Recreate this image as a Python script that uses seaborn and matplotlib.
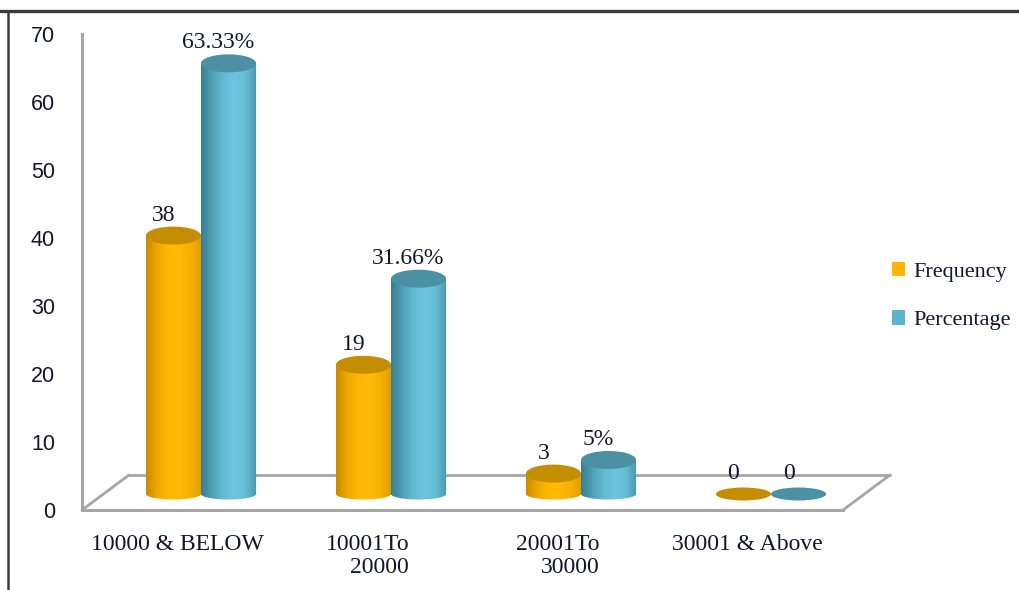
import numpy as np
import pandas as pd
import matplotlib
matplotlib.use("Agg")
import matplotlib.pyplot as plt
import seaborn as sns
from matplotlib.colors import LinearSegmentedColormap
from matplotlib.patches import Ellipse, PathPatch, Patch
from matplotlib.path import Path
from matplotlib.lines import Line2D

# ---- data -------------------------------------------------------------
income_bands = ["10000 & BELOW", "10001To\n20000", "20001To\n30000", "30001 & Above"]
series_names = ["Frequency", "Percentage"]
frequency = [38, 19, 3, 0]
percentage = [63.33, 31.66, 5, 0]
y_ticks = [0, 10, 20, 30, 40, 50, 60, 70]

freq_labels = [f"{v:g}" for v in frequency]
pct_labels = [f"{v:g}%" if v else "0" for v in percentage]

df = pd.DataFrame({
    "band": income_bands * 2,
    "series": [series_names[0]] * 4 + [series_names[1]] * 4,
    "value": frequency + percentage,
})

# ---- styling ----------------------------------------------------------
sns.set_style("white")
plt.rcParams["font.family"] = ["Liberation Serif", "DejaVu Serif"]

ORANGE = "#FFB400"
TEAL = "#5BB7D0"
TEXT = "#14152a"
AXIS_GREY = "#A6A6A6"

body_cmaps = {
    "Frequency": LinearSegmentedColormap.from_list(
        "freq", ["#CB8A00", "#EEA800", "#FFB800", "#FFBA0A", "#F8B000", "#DE9C00"]),
    "Percentage": LinearSegmentedColormap.from_list(
        "pct", ["#3A7E90", "#4F9FB5", "#62BBD2", "#6CC5DE", "#64BDD5", "#4A95AA"]),
}
cap_colors = {"Frequency": "#C48E00", "Percentage": "#4C90A3"}

W, H = 1020, 590
fig = plt.figure(figsize=(W / 100, H / 100), dpi=100)

# pixel geometry of the two stacked axes
px_per_unit = 6.8
front_left, front_right = 82, 843
front_zero, front_top = 510, 34
bar_left, bar_right = 106, 866
bar_zero = 494
y_lo = -1.6  # room for the rounded bar bottoms


def fig_rect(left, right, top_px, bottom_px):
    return [left / W, 1 - bottom_px / H, (right - left) / W, (bottom_px - top_px) / H]


# ---- front axis: value scale, floor and category labels ----------------
axf = fig.add_axes(fig_rect(front_left, front_right, front_top, front_zero))
axf.set_xlim(0, 4)
axf.set_ylim(0, 70)
axf.set_facecolor("none")
for side in ("top", "right"):
    axf.spines[side].set_visible(False)
for side in ("left", "bottom"):
    axf.spines[side].set_color(AXIS_GREY)
    axf.spines[side].set_linewidth(2.2)

axf.set_yticks(y_ticks)
axf.set_yticklabels([str(t) for t in y_ticks], family=["Liberation Sans", "DejaVu Sans"],
                    fontsize=15.5, color=TEXT)
axf.tick_params(axis="y", length=7.5, width=1.6, color=AXIS_GREY, pad=12, direction="out")

axf.set_xticks(range(5))
axf.set_xticklabels([])
axf.set_xticks(np.arange(4) + 0.5, minor=True)
axf.set_xticklabels(income_bands, minor=True, fontsize=17, color=TEXT)
axf.tick_params(axis="x", which="major", length=7.5, width=1.6, color=AXIS_GREY, direction="out")
axf.tick_params(axis="x", which="minor", length=0, pad=17)
for lab in axf.get_xticklabels(minor=True):
    lab.set_multialignment("right")
    lab.set_linespacing(1.15)

# floor depth drawn in axes fraction coordinates
dx = 47 / (front_right - front_left)
dy = 35 / (front_zero - front_top)
floor_kw = dict(transform=axf.transAxes, color=AXIS_GREY, lw=2.0, clip_on=False,
                solid_capstyle="round")
axf.plot([dx, 1 + dx], [dy, dy], **floor_kw)
axf.plot([0, dx], [0, dy], **floor_kw)
axf.plot([1, 1 + dx], [0, dy], **floor_kw)

# ---- bar axis: cylinders ------------------------------------------------
axb = fig.add_axes(fig_rect(bar_left, bar_right, bar_zero - 70 * px_per_unit,
                            bar_zero - y_lo * px_per_unit))
sns.barplot(data=df, x="band", y="value", hue="series", hue_order=series_names,
            palette=[ORANGE, TEAL], width=0.58, saturation=1, errorbar=None,
            legend=False, ax=axb)
axb.set_xlim(-0.5, 3.5)
axb.set_ylim(y_lo, 70)
axb.set_facecolor("none")
axb.set_axis_off()

cap_h = 18 / px_per_unit      # height of the top ellipse in data units
base_h = 5.5 / px_per_unit    # depth of the rounded bottom edge
grad = np.linspace(0, 1, 256).reshape(1, -1)

label_sets = {"Frequency": freq_labels, "Percentage": pct_labels}
for container, name in zip(axb.containers, series_names):
    for rect, text in zip(container.patches, label_sets[name]):
        x0, w, h = rect.get_x(), rect.get_width(), rect.get_height()
        rect.set_visible(False)
        xc = x0 + w / 2

        t = np.linspace(np.pi, 2 * np.pi, 80)
        arc = list(zip(xc + (w / 2) * np.cos(t), base_h * np.sin(t)))
        verts = [(x0, h)] + arc + [(x0 + w, h), (x0, h)]
        codes = [Path.MOVETO] + [Path.LINETO] * (len(verts) - 2) + [Path.CLOSEPOLY]
        outline = PathPatch(Path(verts, codes), facecolor="none", edgecolor="none",
                            transform=axb.transData)
        axb.add_patch(outline)
        im = axb.imshow(grad, extent=(x0, x0 + w, -base_h, max(h, 0.01)), aspect="auto",
                        cmap=body_cmaps[name], interpolation="bilinear", zorder=2)
        im.set_clip_path(outline)

        cap = Ellipse((xc, h), w, cap_h if h > 0 else cap_h * 0.72,
                      facecolor=cap_colors[name], edgecolor="none", zorder=3)
        axb.add_patch(cap)

        axb.annotate(text, (xc, h), xytext=(-10, cap_h * px_per_unit / 2 + 1),
                     textcoords="offset pixels", ha="center", va="bottom",
                     fontsize=17, color=TEXT, zorder=4)

axb.set_xlim(-0.5, 3.5)
axb.set_ylim(y_lo, 70)

# ---- legend -------------------------------------------------------------
handles = [Patch(facecolor=ORANGE, edgecolor="none"), Patch(facecolor=TEAL, edgecolor="none")]
fig.legend(handles, series_names, loc="center left",
           bbox_to_anchor=(892 / W, 1 - 296 / H), frameon=False, fontsize=16,
           handlelength=0.6, handleheight=0.6, handletextpad=0.35,
           labelspacing=1.3, borderpad=0, borderaxespad=0, labelcolor=TEXT)

# ---- outer frame (top and left edges) -------------------------------------
fig.add_artist(Line2D([0, 1], [1 - 11 / H, 1 - 11 / H], transform=fig.transFigure,
                      color="#3c3c3c", lw=2.4))
fig.add_artist(Line2D([8 / W, 8 / W], [0, 1 - 11 / H], transform=fig.transFigure,
                      color="#3c3c3c", lw=1.8))

fig.savefig("out.png", dpi=100, facecolor="white")
